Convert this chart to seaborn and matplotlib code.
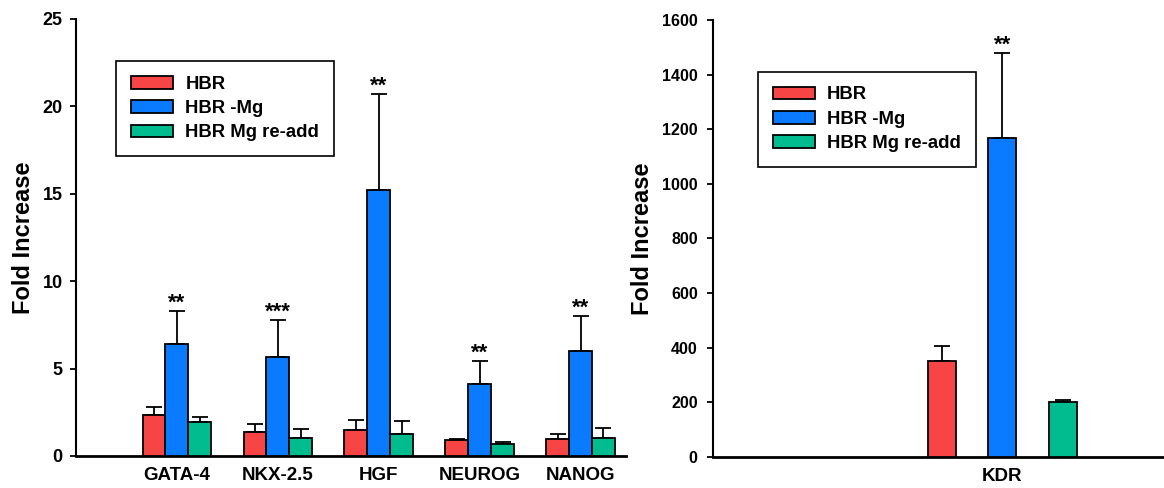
import matplotlib
matplotlib.use("Agg")
import matplotlib.pyplot as plt
import seaborn as sns
import pandas as pd
import numpy as np

# Donnees
genes = ["GATA-4", "NKX-2.5", "HGF", "NEUROG", "NANOG"]
groupes = ["HBR", "HBR -Mg", "HBR Mg re-add"]
hbr = [2.35, 1.37, 1.50, 0.90, 0.99]
hbr_err = [0.43, 0.46, 0.58, 0.09, 0.25]
hbr_mg = [6.40, 5.68, 15.2, 4.10, 6.02]
hbr_mg_err = [1.90, 2.10, 5.50, 1.33, 1.98]
hbr_readd = [1.93, 1.05, 1.24, 0.70, 1.05]
hbr_readd_err = [0.30, 0.49, 0.74, 0.10, 0.53]
etoiles = ["**", "***", "**", "**", "**"]

kdr_gene = ["KDR"]
kdr = [350, 1169, 199]
kdr_err = [56, 311, 10]
kdr_etoiles = ["", "**", ""]

couleurs = ["#F74545", "#0A7BFF", "#00BC8E"]

sns.set_style("ticks", {"axes.edgecolor": "black", "text.color": "black",
                        "xtick.color": "black", "ytick.color": "black",
                        "axes.labelcolor": "black"})
plt.rcParams["font.family"] = ["Liberation Sans", "DejaVu Sans"]
plt.rcParams["font.weight"] = "bold"

# Tableaux pour seaborn
df_gauche = pd.DataFrame({
    "gene": genes * 3,
    "groupe": [g for g in groupes for _ in genes],
    "valeur": hbr + hbr_mg + hbr_readd,
})
err_gauche = [hbr_err, hbr_mg_err, hbr_readd_err]
etoiles_gauche = [[""] * len(genes), etoiles, [""] * len(genes)]

df_droite = pd.DataFrame({
    "gene": kdr_gene * 3,
    "groupe": groupes,
    "valeur": kdr,
})
err_droite = [[e] for e in kdr_err]
etoiles_droite = [[e] for e in kdr_etoiles]

fig = plt.figure(figsize=(11.64, 4.88), dpi=100)
ax1 = fig.add_axes([0.0653, 0.0656, 0.4725, 0.8955])
ax2 = fig.add_axes([0.6125, 0.0641, 0.3875, 0.8949])


# Dessiner un panneau
def panneau(ax, df, erreurs, stars, width, gap, ylim, yticks, xlim, tick_size, tick_pad, leg_pos):
    sns.barplot(data=df, x="gene", y="valeur", hue="groupe", palette=couleurs,
                saturation=1, width=width, gap=gap, errorbar=None,
                edgecolor="black", linewidth=1.3, ax=ax, zorder=3)

    # barres d'erreur (vers le haut seulement) et etoiles
    for cont, err, st in zip(ax.containers, erreurs, stars):
        for bar, e, s in zip(cont.patches, err, st):
            xc = bar.get_x() + bar.get_width() / 2
            h = bar.get_height()
            ax.errorbar(xc, h, yerr=[[0], [e]], fmt="none", ecolor="black",
                        elinewidth=1.3, capsize=6, capthick=1.3, zorder=2)
            if s:
                ax.annotate(s, (xc, h + e), xytext=(0, -2), textcoords="offset points",
                            ha="center", va="bottom", fontsize=16, fontweight="bold")

    ax.set_ylim(*ylim)
    ax.set_yticks(yticks)
    ax.set_xlim(*xlim)
    ax.set_xlabel("")
    ax.set_ylabel("Fold Increase", fontsize=17, fontweight="bold", labelpad=5.5)
    sns.despine(ax=ax)
    ax.spines["left"].set_linewidth(1.5)
    ax.spines["bottom"].set_linewidth(2)
    ax.tick_params(axis="y", direction="out", length=4.5, width=1.3,
                   labelsize=tick_size, pad=tick_pad)
    ax.tick_params(axis="x", length=0, labelsize=13.5, pad=8)
    for lab in ax.get_xticklabels() + ax.get_yticklabels():
        lab.set_fontweight("bold")

    leg = ax.legend(loc="upper left", bbox_to_anchor=leg_pos, borderaxespad=0,
                    fancybox=False, edgecolor="black", framealpha=1,
                    prop={"size": 13.3, "weight": "bold"},
                    handlelength=2.3, handleheight=0.7, handletextpad=0.65,
                    labelspacing=0.4, borderpad=0.8)
    leg.get_frame().set_linewidth(1.2)


panneau(ax1, df_gauche, err_gauche, etoiles_gauche, 0.68, 0, (0, 25),
        [0, 5, 10, 15, 20, 25], (-1.0, 4.45), 13, 5, (0.073, 0.904))
panneau(ax2, df_droite, err_droite, etoiles_droite, 0.8, 0.54, (0, 1600),
        np.arange(0, 1601, 200), (-1.269, 0.708), 11.5, 6.5, (0.0995, 0.8816))

fig.savefig("out.png", dpi=100)
